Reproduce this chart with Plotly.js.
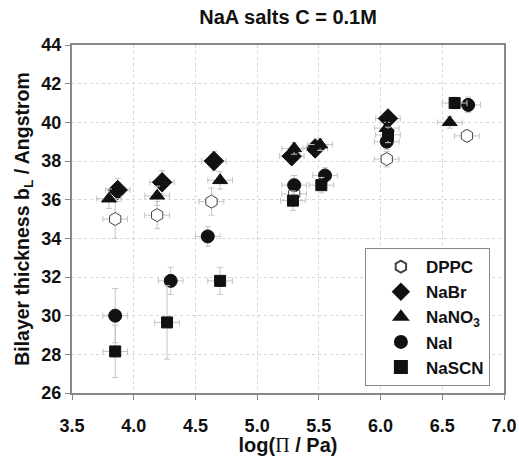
<!DOCTYPE html>
<html>
<head>
<meta charset="utf-8">
<script src="https://cdn.plot.ly/plotly-3.0.1.min.js"></script>
<style>html,body{margin:0;padding:0;background:#fff;}</style>
</head>
<body>
<div id="chart" style="width:519px;height:456px;"></div>
<script>
const seriesNames = ["DPPC", "NaBr", "NaNO<sub>3</sub>", "NaI", "NaSCN"];

const dppcX = [3.85, 4.19, 4.63, 5.30, 6.05, 6.70];
const dppcY = [35.0, 35.2, 35.9, 36.3, 38.1, 39.3];
const dppcErrY = [1.0, 0.7, 0.7, 0.3, 0.4, 0.3];

const nabrX = [3.87, 4.23, 4.65, 5.28, 5.47, 6.06];
const nabrY = [36.5, 36.9, 38.0, 38.25, 38.65, 40.2];
const nabrErrY = [0.6, 0.6, 0.5, 0.4, 0.3, 0.3];

const nano3X = [3.80, 4.19, 4.70, 5.30, 5.51, 6.05, 6.56];
const nano3Y = [36.05, 36.2, 37.0, 38.65, 38.85, 39.7, 40.0];
const nano3ErrY = [0.5, 0.5, 0.45, 0.3, 0.3, 0.3, 0.3];

const naiX = [3.85, 4.30, 4.60, 5.30, 5.55, 6.05, 6.71];
const naiY = [30.0, 31.8, 34.1, 36.75, 37.25, 39.0, 40.9];
const naiErrY = [1.4, 0.7, 0.5, 0.5, 0.4, 0.4, 0.4];

const nascnX = [3.85, 4.27, 4.70, 5.29, 5.52, 6.06, 6.60];
const nascnY = [28.15, 29.65, 31.8, 35.95, 36.75, 39.35, 41.0];
const nascnErrY = [1.35, 1.9, 0.7, 0.5, 0.4, 0.4, 0.3];

const xErr = 0.1;

const xTicks = [3.5, 4.0, 4.5, 5.0, 5.5, 6.0, 6.5, 7.0];
const xTickLabels = ["3.5", "4.0", "4.5", "5.0", "5.5", "6.0", "6.5", "7.0"];
const yTicks = [26, 28, 30, 32, 34, 36, 38, 40, 42, 44];

function mk(name, xs, ys, ey, symbol, size, open) {
  return {
    type: "scatter", mode: "markers", name: name, x: xs, y: ys,
    error_y: {type: "data", array: ey, visible: true, color: "#c4c4c4", thickness: 1, width: 3},
    error_x: {type: "constant", value: xErr, visible: true, color: "#c4c4c4", thickness: 1, width: 3},
    marker: {
      symbol: symbol, size: size,
      color: open ? "#ffffff" : "#111111",
      line: {color: open ? "#444444" : "#111111", width: 1}
    }
  };
}

const traces = [
  mk(seriesNames[0], dppcX, dppcY, dppcErrY, "hexagon", 13, true),
  mk(seriesNames[1], nabrX, nabrY, nabrErrY, "diamond", 15, false),
  mk(seriesNames[2], nano3X, nano3Y, nano3ErrY, "triangle-up", 13, false),
  mk(seriesNames[3], naiX, naiY, naiErrY, "circle", 13, false),
  mk(seriesNames[4], nascnX, nascnY, nascnErrY, "square", 11, false)
];

const font = "Liberation Sans, Arial, sans-serif";

const layout = {
  width: 519, height: 456,
  margin: {l: 72, r: 15, t: 45, b: 63},
  paper_bgcolor: "#fff", plot_bgcolor: "#fff",
  font: {family: font, size: 15, color: "#111"},
  title: {text: "<b>NaA salts C = 0.1M</b>", x: 0.555, xanchor: "center", y: 0.962, yanchor: "middle", font: {family: font, size: 20, color: "#111"}},
  showlegend: true,
  legend: {
    x: 0.678, xanchor: "left", y: 0.02, yanchor: "bottom",
    bordercolor: "#888", borderwidth: 1, bgcolor: "#fff",
    font: {family: font, size: 17, weight: "bold", color: "#111"},
    itemwidth: 40, indentation: 10, tracegroupgap: 0, itemsizing: "constant"
  },
  xaxis: {
    range: [3.5, 7.0], tickvals: xTicks, ticktext: xTickLabels,
    showgrid: true, gridcolor: "#d6d6d6", griddash: "dot", gridwidth: 1,
    showline: true, linecolor: "#888", linewidth: 2, mirror: true,
    ticks: "outside", ticklen: 5, tickcolor: "#888", tickwidth: 1,
    ticklabelstandoff: 10,
    zeroline: false,
    tickfont: {family: font, size: 18, weight: "bold", color: "#111"},
    title: {text: "log(<span style=\"font-family:'Liberation Serif', serif; font-weight:normal\">Π</span> / Pa)", font: {family: font, size: 20, weight: "bold", color: "#111"}, standoff: 11}
  },
  yaxis: {
    range: [26, 44], tickvals: yTicks, ticktext: yTicks.map(String),
    showgrid: true, gridcolor: "#d6d6d6", griddash: "dot", gridwidth: 1,
    showline: true, linecolor: "#888", linewidth: 2, mirror: true,
    ticks: "outside", ticklen: 5, tickcolor: "#888", tickwidth: 1,
    zeroline: false,
    tickfont: {family: font, size: 18, weight: "bold", color: "#111"},
    title: {text: "Bilayer thickness b<sub>L</sub> / Angstrom", font: {family: font, size: 19.5, weight: "bold", color: "#111"}, standoff: 7}
  }
};

Plotly.newPlot("chart", traces, layout, {displayModeBar: false, staticPlot: true});
</script>
</body>
</html>
